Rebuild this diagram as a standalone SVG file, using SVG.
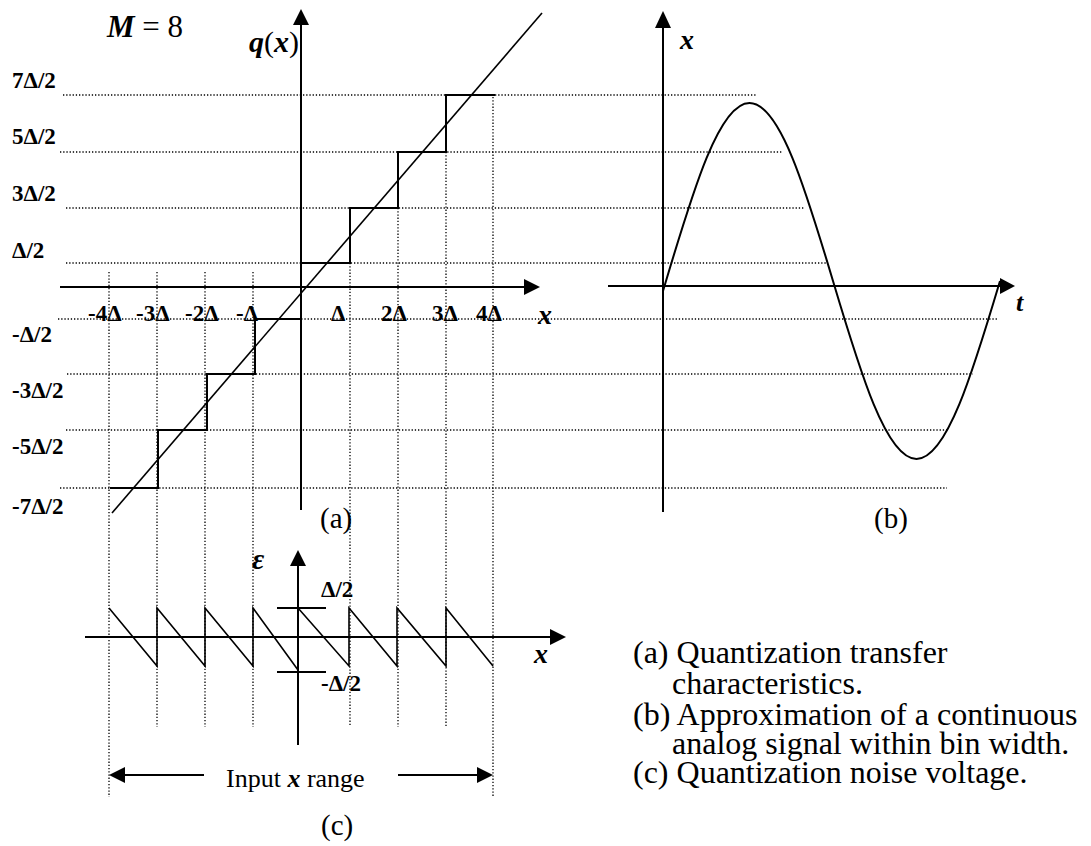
<svg xmlns="http://www.w3.org/2000/svg" width="1091" height="846" viewBox="0 0 1091 846">
<style>
.dot{stroke:#000;stroke-width:1.3;stroke-dasharray:1.3 1.9;fill:none}
.ln{stroke:#000;stroke-width:2;fill:none}
.thin{stroke:#000;stroke-width:1.6;fill:none}
.t{font-family:"Liberation Serif","Times New Roman",serif;fill:#000}
.b{font-weight:bold}
.bi{font-weight:bold;font-style:italic}
.lbl{font-size:23px}
.tick{font-size:23px}
.cap{font-size:32px}
</style>
<rect width="1091" height="846" fill="#fff"/>
<g id="grid">
<line class="dot" x1="63" y1="95" x2="757" y2="95"/>
<line class="dot" x1="60" y1="152" x2="783" y2="152"/>
<line class="dot" x1="66" y1="208" x2="804" y2="208"/>
<line class="dot" x1="66" y1="263" x2="828" y2="263"/>
<line class="dot" x1="58" y1="319" x2="998" y2="319"/>
<line class="dot" x1="67" y1="374" x2="973" y2="374"/>
<line class="dot" x1="66" y1="430" x2="948" y2="430"/>
<line class="dot" x1="60" y1="488" x2="947" y2="488"/>
<line class="dot" x1="109" y1="272" x2="109" y2="797"/>
<line class="dot" x1="157" y1="272" x2="157" y2="727"/>
<line class="dot" x1="205" y1="272" x2="205" y2="727"/>
<line class="dot" x1="253" y1="272" x2="253" y2="727"/>
<line class="dot" x1="350" y1="263" x2="350" y2="727"/>
<line class="dot" x1="398" y1="208" x2="398" y2="727"/>
<line class="dot" x1="446" y1="152" x2="446" y2="727"/>
<line class="dot" x1="493" y1="97" x2="493" y2="797"/>
</g>
<g id="plot-a">
<line class="ln" x1="60" y1="287" x2="525" y2="287"/>
<polygon points="524,279 540,287 524,295"/>
<line class="ln" x1="301" y1="510" x2="301" y2="24"/>
<polygon points="293,25 301,9 309,25"/>
<path class="ln" d="M301,263 H350 V208 H398 V152 H446 V95 H495"/>
<path class="ln" d="M301,319 H255 V374 H207 V430 H158 V488 H110"/>
<line class="thin" x1="112" y1="513" x2="542" y2="13"/>
<text class="t" x="107" y="37" font-size="31"><tspan class="bi">M</tspan> = 8</text>
<text class="t" x="249" y="52" font-size="30"><tspan class="bi">q</tspan>(<tspan class="bi">x</tspan>)</text>
<text class="t b lbl" x="12" y="88">7Δ/2</text>
<text class="t b lbl" x="12" y="144">5Δ/2</text>
<text class="t b lbl" x="12" y="201">3Δ/2</text>
<text class="t b lbl" x="12" y="258">Δ/2</text>
<text class="t b lbl" x="12" y="342">-Δ/2</text>
<text class="t b lbl" x="12" y="398">-3Δ/2</text>
<text class="t b lbl" x="12" y="454">-5Δ/2</text>
<text class="t b lbl" x="12" y="514">-7Δ/2</text>
<text class="t b tick" x="88" y="321">-4Δ</text>
<text class="t b tick" x="136" y="321">-3Δ</text>
<text class="t b tick" x="185" y="321">-2Δ</text>
<text class="t b tick" x="236" y="321">-Δ</text>
<text class="t b tick" x="331" y="321">Δ</text>
<text class="t b tick" x="381" y="321">2Δ</text>
<text class="t b tick" x="432" y="321">3Δ</text>
<text class="t b tick" x="476" y="321">4Δ</text>
<text class="t bi" x="538" y="324" font-size="28">x</text>
<text class="t" x="320" y="528" font-size="29">(a)</text>
</g>
<g id="plot-b">
<line class="ln" x1="608" y1="286" x2="1001" y2="286"/>
<polygon points="1000,278 1015,286 1000,294"/>
<line class="ln" x1="663" y1="512" x2="663" y2="27"/>
<polygon points="655,28 663,11 671,28"/>
<path class="ln" d="M663,291 L666,281 C693.2,189.8 719.3,103 749.5,103 C779.7,103 805.8,189.8 833,281 C860.2,372.2 886.3,459 916.5,459 C946.7,459 972.8,372.2 1000,281"/>
<text class="t bi" x="680" y="49" font-size="28">x</text>
<text class="t bi" x="1016" y="311" font-size="26">t</text>
<text class="t" x="874" y="528" font-size="29">(b)</text>
</g>
<g id="plot-c">
<line class="ln" x1="85" y1="637" x2="551" y2="637"/>
<polygon points="550,629 566,637 550,645"/>
<line class="ln" x1="298" y1="745" x2="298" y2="565"/>
<polygon points="290,566 298,550 306,566"/>
<line class="ln" x1="277" y1="608" x2="326" y2="608"/>
<line class="ln" x1="277" y1="672" x2="326" y2="672"/>
<path class="thin" d="M109,608 L157,666 V608 L205,666 V608 L253,666 V608 L298,670 M298,608 L349,666 V608 L397,666 V608 L446,666 V608 L493,666"/>
<text class="t bi" x="252" y="569" font-size="30">ε</text>
<text class="t b lbl" x="321" y="597">Δ/2</text>
<text class="t b lbl" x="321" y="691">-Δ/2</text>
<text class="t bi" x="534" y="663" font-size="28">x</text>
</g>
<g id="range">
<line class="ln" x1="122" y1="775" x2="204" y2="775"/>
<polygon points="109,775 125,767 125,783"/>
<line class="ln" x1="398" y1="775" x2="480" y2="775"/>
<polygon points="493,775 477,767 477,783"/>
<text class="t" x="226" y="787" font-size="26">Input <tspan class="bi">x</tspan> range</text>
<text class="t" x="321" y="835" font-size="29">(c)</text>
</g>
<g id="legend" class="t cap">
<text x="633" y="663">(a) Quantization transfer</text>
<text x="672" y="694">characteristics.</text>
<text x="633" y="725">(b) Approximation of a continuous</text>
<text x="672" y="754">analog signal within bin width.</text>
<text x="633" y="783">(c) Quantization noise voltage.</text>
</g>
</svg>
